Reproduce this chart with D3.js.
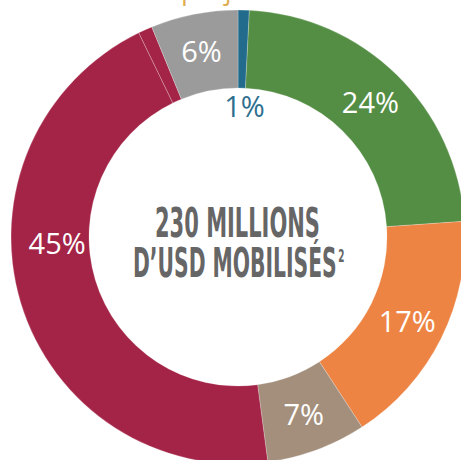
<!DOCTYPE html>
<html>
<head>
<meta charset="utf-8">
<script src="https://cdn.jsdelivr.net/npm/d3@7"></script>
<style>
	body { margin: 0; background: #fff; }
	svg { display: block; }
</style>
</head>
<body>
<div id="donut"></div>
<script>
let width = 461;
let height = 460;

// slice values (percent), clockwise from the top
const categories = ["a", "b", "c", "d", "e", "e2", "f"];
const values = [0.8, 23.1, 16.9, 7.1, 44.9, 1.0, 6.2];
const labels = ["1%", "24%", "17%", "7%", "45%", "", "6%"];
const colors = ["#236b8c", "#548e44", "#ed8444", "#a38f7b", "#a42447", "#a42447", "#9b9b9b"];

const centerLines = ["230 MILLIONS", "D\u2019USD MOBILISÉS"];
const footnote = "2";

let cx = 238, cy = 237;
let outerR = 227, innerR = 149;

let data = categories.map((c, i) => ({ key: c, value: values[i], label: labels[i], color: colors[i] }));

let svg = d3.select('#donut')
	.append('svg')
	.attr('width', width)
	.attr('height', height);

// cut-off title above the chart
svg.append("text")
	.attr("x", 181)
	.attr("y", -1)
	.attr("fill", "#dfae4f")
	.attr("font-family", "Open Sans, sans-serif")
	.attr("font-size", 27)
	.text("projets");

let g = svg.append("g")
	.attr("transform", `translate(${cx},${cy})`);

let pie = d3.pie()
	.sort(null)
	.value(d => d.value);

let arc = d3.arc()
	.innerRadius(innerR)
	.outerRadius(outerR);

let arcs = pie(data);

g.selectAll("path")
	.data(arcs)
	.enter()
	.append("path")
	.attr("d", arc)
	.attr("fill", d => d.data.color)
	.attr("stroke", "#fff")
	.attr("stroke-width", 0.4)
	.attr("stroke-opacity", 0.6);

// labels sit in the ring, the small one inside the hole
let labelArc = d3.arc().innerRadius(189).outerRadius(189);
let holeArc = d3.arc().innerRadius(131).outerRadius(131);

g.selectAll(".lbl")
	.data(arcs.filter(d => d.data.label !== ""))
	.enter()
	.append("text")
	.attr("class", "lbl")
	.attr("transform", d => {
		let p;
		if (d.data.key === "a") {
			p = holeArc.centroid({ startAngle: d.startAngle, endAngle: d.endAngle + 0.05 });
		} else if (d.data.key === "e") {
			// the big one is pushed toward the left side
			let a = 268 * Math.PI / 180;
			p = [Math.sin(a) * 181, -Math.cos(a) * 181];
		} else {
			p = labelArc.centroid(d);
		}
		return `translate(${p[0]},${p[1]})`;
	})
	.attr("text-anchor", "middle")
	.attr("dy", "0.36em")
	.attr("font-family", "Open Sans, sans-serif")
	.attr("font-size", 29)
	.attr("fill", d => d.data.key === "a" ? "#2e6f8f" : "#fff")
	.text(d => d.data.label);

// centre text, squeezed to a condensed look
let ct = svg.append("g")
	.attr("font-family", "Liberation Sans Narrow, DejaVu Sans Condensed, sans-serif")
	.attr("font-weight", "bold")
	.attr("fill", "#666666");

let line1 = ct.append("text")
	.attr("font-size", 41)
	.text(centerLines[0]);
let s1 = 165 / line1.node().getComputedTextLength();
line1.attr("transform", `translate(155,237) scale(${s1},1)`);

let line2 = ct.append("text")
	.attr("font-size", 41);
line2.append("tspan").text(centerLines[1]);
line2.append("tspan")
	.attr("dx", 3)
	.attr("dy", -15)
	.attr("font-size", 18)
	.text(footnote);
let s2 = 210 / line2.node().getComputedTextLength();
line2.attr("transform", `translate(133,277) scale(${s2},1)`);
</script>
</body>
</html>
